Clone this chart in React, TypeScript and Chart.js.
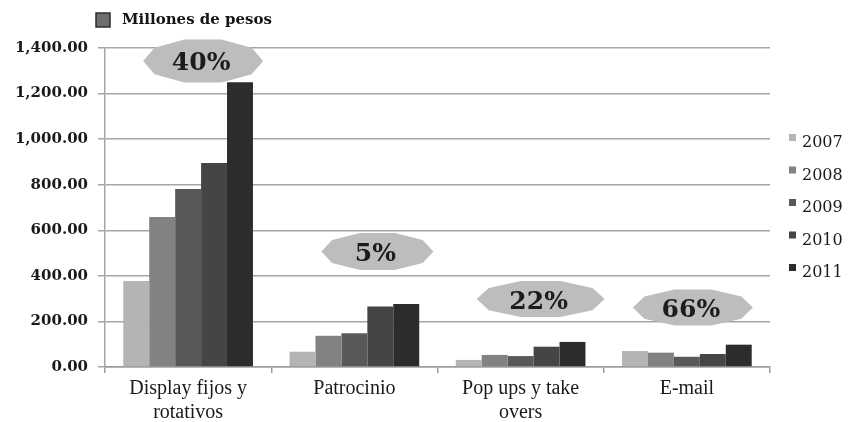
import React, { useEffect, useRef } from "react";
import { Chart, registerables } from "chart.js";

Chart.register(...registerables);

// Online advertising spend by format, millions of pesos
const categories: (string | string[])[] = [
  ["Display fijos y", "rotativos"],
  "Patrocinio",
  ["Pop ups y take", "overs"],
  "E-mail",
];
const years = ["2007", "2008", "2009", "2010", "2011"];
const values2007 = [377, 67, 31, 70];
const values2008 = [658, 137, 53, 63];
const values2009 = [781, 148, 48, 45];
const values2010 = [895, 265, 89, 57];
const values2011 = [1250, 276, 110, 98];
const yearColors = ["#b4b4b4", "#828282", "#595959", "#454545", "#2c2c2c"];
const growthLabels = ["40%", "5%", "22%", "66%"];
const unitLabel = "Millones de pesos";
const yMin = 0;
const yMax = 1400;
const yStep = 200;

const seriesValues = [values2007, values2008, values2009, values2010, values2011];

// Growth badges: offset from category centre and vertical anchor in data units
const badgeLayout = [
  { dx: 15, v: 1343, w: 120, h: 43 },
  { dx: 23, v: 507, w: 112, h: 37 },
  { dx: 20, v: 298, w: 128, h: 36 },
  { dx: 6, v: 261, w: 120, h: 36 },
];

const badgePlugin = {
  id: "growthBadges",
  afterDatasetsDraw(chart: any) {
    const { ctx } = chart;
    const x = chart.scales.x;
    const y = chart.scales.y;
    growthLabels.forEach((label, i) => {
      const a = badgeLayout[i];
      const cx = x.getPixelForValue(i) + a.dx;
      const cy = y.getPixelForValue(a.v);
      const rx = a.w / 2;
      const ry = a.h / 2 / Math.sin((72 * Math.PI) / 180);
      ctx.save();
      ctx.beginPath();
      for (let k = 0; k < 10; k++) {
        const t = (k * Math.PI * 2) / 10;
        const px = cx + rx * Math.cos(t);
        const py = cy + ry * Math.sin(t);
        if (k === 0) ctx.moveTo(px, py);
        else ctx.lineTo(px, py);
      }
      ctx.closePath();
      ctx.fillStyle = "#bdbdbd";
      ctx.fill();
      ctx.font = "bold 25px 'DejaVu Serif'";
      ctx.fillStyle = "#1c1c1c";
      ctx.textAlign = "center";
      ctx.textBaseline = "middle";
      ctx.fillText(label, cx - 2, cy + 3);
      ctx.restore();
    });
  },
};

const legendPlugin = {
  id: "sideLegends",
  afterDraw(chart: any) {
    const { ctx } = chart;
    ctx.save();
    // unit legend above the plot
    ctx.fillStyle = "#6e6e6e";
    ctx.strokeStyle = "#2e2e2e";
    ctx.lineWidth = 1.5;
    ctx.fillRect(96, 13, 14, 14);
    ctx.strokeRect(96, 13, 14, 14);
    ctx.font = "bold 15px 'DejaVu Serif'";
    ctx.fillStyle = "#151515";
    ctx.textAlign = "left";
    ctx.textBaseline = "middle";
    ctx.fillText(unitLabel, 122, 20);

    // year legend on the right
    const area = chart.chartArea;
    const startY = 143;
    const gap = 32.5;
    chart.data.datasets.forEach((ds: any, i: number) => {
      const ty = startY + i * gap;
      ctx.fillStyle = ds.backgroundColor;
      ctx.fillRect(area.right + 19, ty - 9, 7, 7);
      ctx.font = "16px 'DejaVu Serif'";
      ctx.fillStyle = "#1a1a1a";
      ctx.fillText(ds.label, area.right + 32, ty);
    });
    ctx.restore();
  },
};

export default function App() {
  const canvasRef = useRef<HTMLCanvasElement | null>(null);

  useEffect(() => {
    if (!canvasRef.current) return;
    const chart = new Chart(canvasRef.current, {
      type: "bar",
      data: {
        labels: categories,
        datasets: years.map((yr, i) => ({
          label: yr,
          data: seriesValues[i],
          backgroundColor: yearColors[i],
          borderWidth: 0,
          categoryPercentage: 0.78,
          barPercentage: 1,
        })),
      },
      options: {
        animation: false,
        responsive: true,
        maintainAspectRatio: false,
        layout: { padding: { top: 48, right: 78, bottom: 0, left: 0 } },
        plugins: {
          legend: { display: false },
          tooltip: { enabled: false },
          title: { display: false },
        },
        scales: {
          x: {
            grid: {
              display: true,
              drawOnChartArea: false,
              drawTicks: true,
              tickLength: 6,
              color: "#9c9c9c",
              lineWidth: 1.5,
              offset: true,
            },
            border: { display: true, color: "#9c9c9c", width: 1.5 },
            ticks: {
              font: { family: "'Liberation Serif'", size: 20 },
              color: "#1a1a1a",
              padding: 4,
              maxRotation: 0,
              autoSkip: false,
            },
            afterFit: (s: any) => {
              s.height = 55;
            },
          },
          y: {
            min: yMin,
            max: yMax,
            ticks: {
              stepSize: yStep,
              callback: (v: any) =>
                Number(v).toLocaleString("en-US", {
                  minimumFractionDigits: 2,
                  maximumFractionDigits: 2,
                }),
              font: { family: "'DejaVu Serif'", size: 15, weight: "bold" },
              color: "#1a1a1a",
              padding: 10,
            },
            grid: { color: "#a6a6a6", lineWidth: 1.5, tickLength: 7 },
            border: { color: "#a6a6a6", width: 1.5 },
            afterFit: (s: any) => {
              s.width = 105;
            },
          },
        },
      },
      plugins: [badgePlugin, legendPlugin],
    });
    return () => chart.destroy();
  }, []);

  return (
    <div style={{ position: "absolute", left: 0, top: 0, width: 848, height: 422, background: "#fff" }}>
      <canvas ref={canvasRef} />
    </div>
  );
}
